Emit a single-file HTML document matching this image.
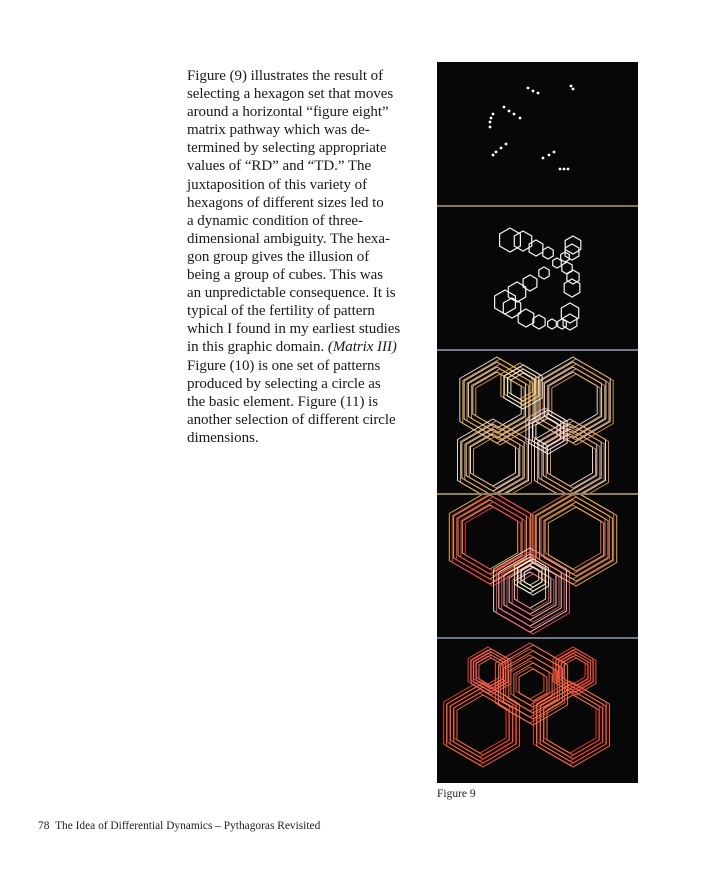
<!DOCTYPE html>
<html><head><meta charset="utf-8">
<style>
body{margin:0;background:#fff;width:703px;height:889px;position:relative;overflow:hidden}
#txt{position:absolute;left:187px;top:67px;width:240px;font-family:"Liberation Serif",serif;font-size:15px;line-height:18.1px;letter-spacing:-0.05px;color:#1a1a1a}
#txt div{white-space:nowrap}
#cap{position:absolute;left:437px;top:788px;font-family:"Liberation Serif",serif;font-size:11.5px;color:#222}
#foot{position:absolute;left:38px;top:820px;font-family:"Liberation Serif",serif;font-size:11.4px;color:#222}
svg{position:absolute;left:437px;top:62px}
</style></head><body>
<div id="txt">
<div>Figure (9) illustrates the result of</div>
<div>selecting a hexagon set that moves</div>
<div>around a horizontal “figure eight”</div>
<div>matrix pathway which was de-</div>
<div>termined by selecting appropriate</div>
<div>values of “RD” and “TD.” The</div>
<div>juxtaposition of this variety of</div>
<div>hexagons of different sizes led to</div>
<div>a dynamic condition of three-</div>
<div>dimensional ambiguity. The hexa-</div>
<div>gon group gives the illusion of</div>
<div>being a group of cubes. This was</div>
<div>an unpredictable consequence. It is</div>
<div>typical of the fertility of pattern</div>
<div>which I found in my earliest studies</div>
<div>in this graphic domain. <i>(Matrix III)</i></div>
<div>Figure (10) is one set of patterns</div>
<div>produced by selecting a circle as</div>
<div>the basic element. Figure (11) is</div>
<div>another selection of different circle</div>
<div>dimensions.</div>
</div>
<svg id="fig" width="201" height="721" viewBox="437 62 201 721"></svg>
<div id="cap">Figure 9</div>
<div id="foot">78&nbsp;&nbsp;The Idea of Differential Dynamics – Pythagoras Revisited</div>
<script>
const dotsX=[528,533,538,571,573,504,509,514,520,493,491,490,490,506,501,496,493,543,549,554,560,564,568];
const dotsY=[88,91,93,86,89,107,111,114,118,114,118,122,127,144,148,152,155,158,155,152,169,169,169];
const hexX=[510,523,536,548,557,565,573,572,567,573,572,544,530,517,505,512,526,539,552,562,570,570];
const hexY=[240,241,248,253,263,257,245,252,268,277,288,273,283,292,302,308,318,322,324,324,313,322];
const hexR=[12,10,8,6,5,5,9,8,6,7,9,6,8,10,12,10,9,7,5,5,10,8];
const clX=[497,573,493,570,520,545,490,573,530,530,480,570,488,573,530];
const clY=[400,400,460,460,385,430,537,537,590,575,723,723,670,670,683];
const clR=[[28,33,38,43],[28,33,38,43],[26,31,36,41],[26,31,36,41],[14,18,22],[14,18,22],[32,37,42,47],[32,37,42,47],[18,24,30,36,42],[10,14,18],[30,34,38,42],[30,34,38,42],[14,17,20,23],[14,17,20,23],[16,22,28,34,40]];
const clC=['#f4eef0','#f2eef8','#f6f0ee','#f0eef6','#f5b848','#f7c0c8','#f5c04a','#f07060','#f8e8d0','#fff0a0','#ff4030','#ff3a2a','#ff5040','#ff4535','#ff5a3a'];
const clA=['#f5a030','#f0a040','#e8a050','#f09850','#ffffff','#ffffff','#ff3050','#f5c050','#ff5070','#ffffff','#ff7040','#ff8050','#ff7060','#ff6050','#ff8050'];
const svg=document.getElementById('fig');
const NS='http://www.w3.org/2000/svg';
function mk(t,a){const e=document.createElementNS(NS,t);for(const k in a)e.setAttribute(k,a[k]);svg.appendChild(e);return e;}
function hex(cx,cy,r){let p=[];for(let i=0;i<6;i++){const a=Math.PI/180*(60*i-90);p.push((cx+r*Math.cos(a)).toFixed(1)+','+(cy+r*Math.sin(a)).toFixed(1));}return p.join(' ');}
const defs=mk('defs',{});
[[351,142],[495,142],[639,143]].forEach(([y,hh],k)=>{const cp=document.createElementNS(NS,'clipPath');cp.setAttribute('id','c'+k);const r=document.createElementNS(NS,'rect');r.setAttribute('x',437);r.setAttribute('y',y);r.setAttribute('width',201);r.setAttribute('height',hh);cp.appendChild(r);defs.appendChild(cp);});
const bg=mk('rect',{x:437,y:62,width:201,height:721,fill:'#070707'});


[[206,'#c8b888'],[350,'#b8c0d0'],[494,'#d8c890'],[638,'#a8b8d0']].forEach(([y,c])=>{const l=mk('line',{x1:437,x2:638,y1:y,y2:y,stroke:c,'stroke-width':1.2});

});
dotsX.forEach((x,i)=>{const c=mk('circle',{cx:x,cy:dotsY[i],r:1.4,fill:'#fff'});

});
hexX.forEach((x,i)=>{const h=mk('polygon',{points:hex(x,hexY[i],hexR[i]),fill:'none',stroke:'#f4f4f4','stroke-width':1.2});

});
clX.forEach((x,i)=>{
 clR[i].forEach((r,j)=>{
  [[0,0,clC[i]],[3,2,clA[i]]].forEach(([dx,dy,col])=>{
   const h=mk('polygon',{points:hex(x+dx,clY[i]+dy,r),fill:'none',stroke:col,'stroke-width':1,opacity:0.9});
   
   
   h.setAttribute('clip-path','url(#c'+(i<6?0:(i<10?1:2))+')');
  });
 });
});
</script>
</body></html>
